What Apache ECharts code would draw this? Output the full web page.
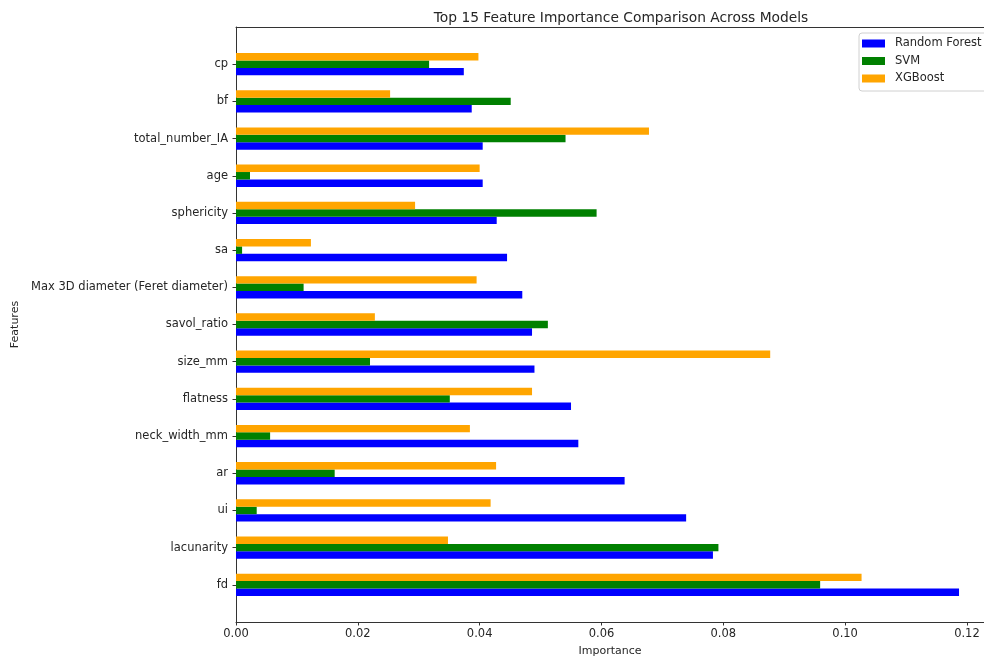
<!DOCTYPE html>
<html>
<head>
<meta charset="utf-8">
<script src="https://cdn.jsdelivr.net/npm/echarts@6/dist/echarts.min.js"></script>
<style>
  html, body { margin: 0; padding: 0; background: #fff; }
  #chart { width: 984px; height: 657px; }
</style>
</head>
<body>
<div id="chart"></div>
<script>
// Features listed bottom-to-top (index 0 sits at the bottom of the axis)
const features = [
  'fd', 'lacunarity', 'ui', 'ar', 'neck_width_mm', 'flatness', 'size_mm',
  'savol_ratio', 'Max 3D diameter (Feret diameter)', 'sa', 'sphericity',
  'age', 'total_number_IA', 'bf', 'cp'
];

const randomForest = [0.1187, 0.0783, 0.0739, 0.0638, 0.0562, 0.0550, 0.0490,
  0.0486, 0.0470, 0.0445, 0.0428, 0.0405, 0.0405, 0.0387, 0.0374];
const svm = [0.0959, 0.0792, 0.0034, 0.0162, 0.0056, 0.0351, 0.0220,
  0.0512, 0.0111, 0.0010, 0.0592, 0.0023, 0.0541, 0.0451, 0.0317];
const xgboost = [0.1027, 0.0348, 0.0418, 0.0427, 0.0384, 0.0486, 0.0877,
  0.0228, 0.0395, 0.0123, 0.0294, 0.0400, 0.0678, 0.0253, 0.0398];

const xTicks = [0, 0.02, 0.04, 0.06, 0.08, 0.10, 0.12];

const BAR_H = 0.2; // bar thickness in category units
const X_MAX = 0.1228; // visible part of the value range

// Horizontal bar drawn from 0 to value, shifted by `offset` around its category
function barRenderer(offset) {
  return function (params, api) {
    const v = api.value(0);
    const c = api.value(1);
    const p0 = api.coord([0, c + offset + BAR_H / 2]);
    const p1 = api.coord([v, c + offset - BAR_H / 2]);
    return {
      type: 'rect',
      shape: { x: p0[0], y: p0[1], width: p1[0] - p0[0], height: p1[1] - p0[1] },
      style: { fill: api.visual('color') }
    };
  };
}

function toPairs(values) {
  return values.map((v, i) => [v, i]);
}

const chart = echarts.init(document.getElementById('chart'), null, { renderer: 'canvas' });

const labelColor = '#262626';
const fontFamily = 'DejaVu Sans';
const spine = { color: '#333', width: 1 };

chart.setOption({
  backgroundColor: '#ffffff',
  animation: false,
  textStyle: { fontFamily: fontFamily },
  title: {
    text: 'Top 15 Feature Importance Comparison Across Models',
    left: 616,
    textAlign: 'center',
    top: 6,
    textStyle: { fontSize: 13.8, fontWeight: 'normal', color: labelColor, fontFamily: fontFamily }
  },
  legend: {
    orient: 'vertical',
    left: 859,
    top: 33,
    padding: [4, 6, 6, 3],
    itemWidth: 23,
    itemHeight: 8,
    itemGap: 4.5,
    icon: 'rect',
    backgroundColor: 'rgba(255,255,255,0.8)',
    borderColor: '#d0d0d0',
    borderWidth: 1,
    borderRadius: 3,
    textStyle: { fontSize: 11.5, color: labelColor, fontFamily: fontFamily, lineHeight: 13, padding: [0, 0, 0, 5] },
    data: ['Random Forest', 'SVM', 'XGBoost']
  },
  grid: {
    left: 236,
    top: 27,
    right: 0,
    height: 595,
    show: false,
    containLabel: false,
    outerBoundsMode: 'none'
  },
  xAxis: [
    {
      type: 'value',
      min: 0,
      max: X_MAX,
      name: 'Importance',
      nameLocation: 'middle',
      nameGap: 24,
      nameTextStyle: { fontSize: 11, color: labelColor },
      axisLine: { show: true, onZero: false, lineStyle: spine },
      axisTick: { show: true, length: 3.5, customValues: xTicks, lineStyle: { color: '#333' } },
      axisLabel: {
        customValues: xTicks,
        fontSize: 11.5,
        color: labelColor,
        margin: 6,
        formatter: v => v.toFixed(2)
      },
      splitLine: { show: false }
    },
    {
      // top spine
      type: 'value',
      position: 'top',
      min: 0,
      max: X_MAX,
      axisLine: { show: true, onZero: false, lineStyle: spine },
      axisTick: { show: false },
      axisLabel: { show: false },
      splitLine: { show: false }
    }
  ],
  yAxis: {
    type: 'value',
    min: -1,
    max: 15,
    interval: 1,
    name: 'Features',
    nameLocation: 'middle',
    nameRotate: 90,
    nameGap: 214,
    nameTextStyle: { fontSize: 11, color: labelColor },
    axisLine: { show: true, onZero: false, lineStyle: spine },
    axisTick: { show: true, length: 3.5, customValues: features.map((_, i) => i), lineStyle: { color: '#333' } },
    axisLabel: {
      customValues: features.map((_, i) => i),
      fontSize: 11.5,
      color: labelColor,
      margin: 8,
      formatter: v => features[Math.round(v)] || ''
    },
    splitLine: { show: false }
  },
  series: [
    {
      name: 'Random Forest',
      type: 'custom',
      color: '#0000ff',
      renderItem: barRenderer(-BAR_H),
      encode: { x: 0, y: 1 },
      data: toPairs(randomForest)
    },
    {
      name: 'SVM',
      type: 'custom',
      color: '#008000',
      renderItem: barRenderer(0),
      encode: { x: 0, y: 1 },
      data: toPairs(svm)
    },
    {
      name: 'XGBoost',
      type: 'custom',
      color: '#ffa500',
      renderItem: barRenderer(BAR_H),
      encode: { x: 0, y: 1 },
      data: toPairs(xgboost)
    }
  ]
});
</script>
</body>
</html>
